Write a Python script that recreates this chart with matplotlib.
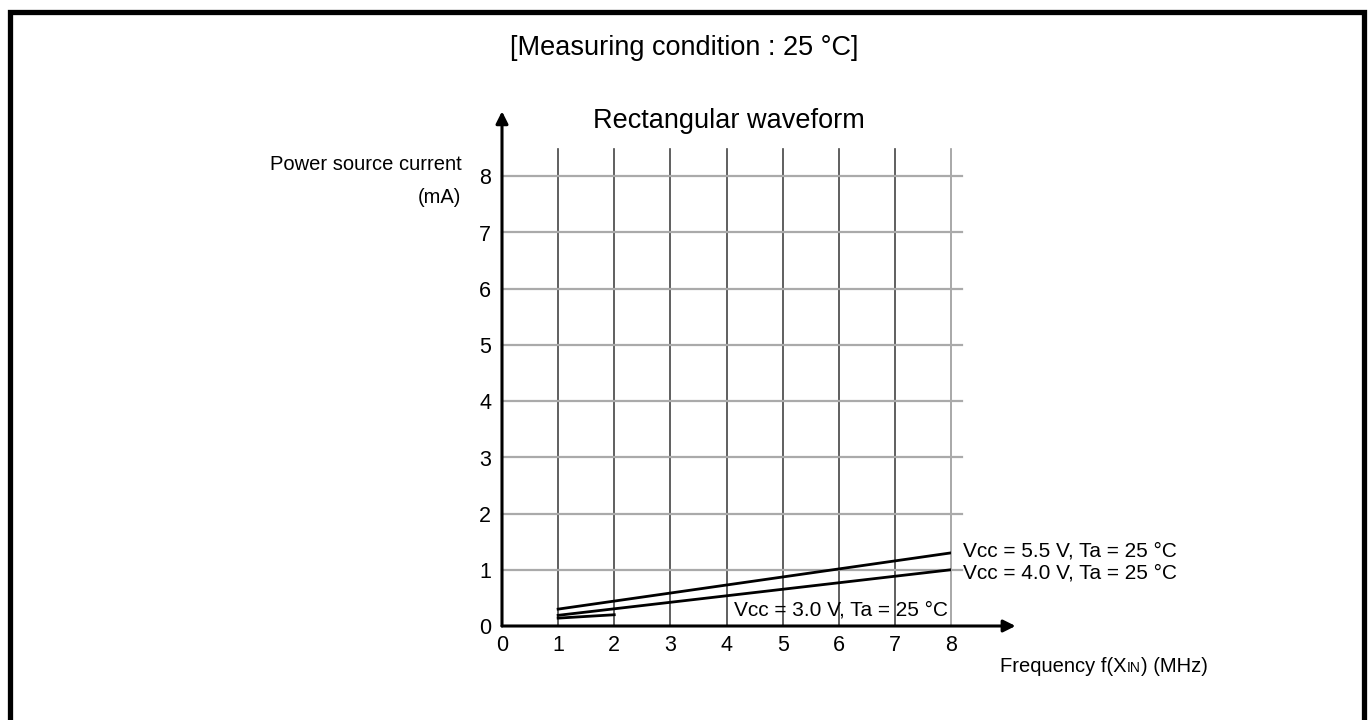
import matplotlib
matplotlib.use('Agg')
import matplotlib.pyplot as plt
from matplotlib.patches import Rectangle
from matplotlib.offsetbox import TextArea, HPacker, AnchoredOffsetbox, AnnotationBbox

# Data
freq_55 = [1, 8]
curr_55 = [0.30, 1.30]
freq_40 = [1, 8]
curr_40 = [0.19, 1.00]
freq_30 = [1, 2]
curr_30 = [0.14, 0.20]
x_ticks = [0, 1, 2, 3, 4, 5, 6, 7, 8]
y_ticks = [0, 1, 2, 3, 4, 5, 6, 7, 8]
labels = ['Vcc = 5.5 V, Ta = 25 \u00b0C',
          'Vcc = 4.0 V, Ta = 25 \u00b0C',
          'Vcc = 3.0 V, Ta = 25 \u00b0C']

plt.rcParams['font.family'] = ['Liberation Sans', 'DejaVu Sans']

fig = plt.figure(figsize=(13.68, 7.2), dpi=100)

# outer frame (bottom edge falls outside the picture)
fig.patches.append(Rectangle((9.5 / 1368, -20 / 720), 1354 / 1368, 728 / 720,
                             transform=fig.transFigure, fill=False,
                             edgecolor='black', linewidth=3.8))

ax = fig.add_axes([502 / 1368, 94 / 720, 449 / 1368, 450 / 720])
ax.set_xlim(0, 8)
ax.set_ylim(0, 8)
for s in ax.spines.values():
    s.set_visible(False)
ax.set_xticks([])
ax.set_yticks([])

# grid
for x in x_ticks[1:]:
    ax.plot([x, x], [0, 8.48], color='#999999' if x == 8 else '#444444',
            lw=1.2, clip_on=False, zorder=1)
for y in y_ticks[1:]:
    ax.plot([0, 8.2], [y, y], color='#aaaaaa', lw=1.6, clip_on=False, zorder=1)

# axes arrows
ax.annotate('', xy=(9.15, 0), xytext=(0, 0),
            arrowprops=dict(arrowstyle='-|>', color='black', lw=2.2,
                            mutation_scale=18, shrinkA=0, shrinkB=0),
            annotation_clip=False)
ax.annotate('', xy=(0, 9.15), xytext=(0, 0),
            arrowprops=dict(arrowstyle='-|>', color='black', lw=2.2,
                            mutation_scale=18, shrinkA=0, shrinkB=0),
            annotation_clip=False)

# curves
ax.plot(freq_55, curr_55, color='black', lw=2, zorder=3)
ax.plot(freq_40, curr_40, color='black', lw=2, zorder=3)
ax.plot(freq_30, curr_30, color='black', lw=2, zorder=3)

# tick labels
for x in x_ticks:
    ax.text(x, -0.16, str(x), ha='center', va='top', fontsize=15.5)
for y in y_ticks:
    ax.text(-0.19, y - 0.05, str(y), ha='right', va='center', fontsize=15.5)

# curve labels
ax.text(8.22, curr_55[-1] + 0.03, labels[0], ha='left', va='center', fontsize=15)
ax.text(8.22, curr_40[-1] - 0.06, labels[1], ha='left', va='center', fontsize=15)
ax.text(7.95, 0.28, labels[2], ha='right', va='center', fontsize=15)

# axis titles
ax.text(-0.72, 8.2, 'Power source current', ha='right', va='center', fontsize=14.5)
ax.text(-0.72, 7.62, '(mA)', ha='right', va='center', fontsize=14.5)

parts = [TextArea('Frequency f(X', textprops=dict(fontsize=14.5)),
         TextArea('IN', textprops=dict(fontsize=10)),
         TextArea(') (MHz)', textprops=dict(fontsize=14.5))]
pack = HPacker(children=parts, align='baseline', pad=0, sep=0)
ab = AnnotationBbox(pack, (8.88, -0.72), xycoords='data', box_alignment=(0, 0.5),
                    frameon=False, annotation_clip=False)
ax.add_artist(ab)

ax.text(4.05, 8.97, 'Rectangular waveform', ha='center', va='center', fontsize=19.5)
fig.text(0.5, 1 - 48 / 720, '[Measuring condition : 25 \u00b0C]', ha='center',
         va='center', fontsize=19.5)

fig.savefig('out.png', dpi=100)
